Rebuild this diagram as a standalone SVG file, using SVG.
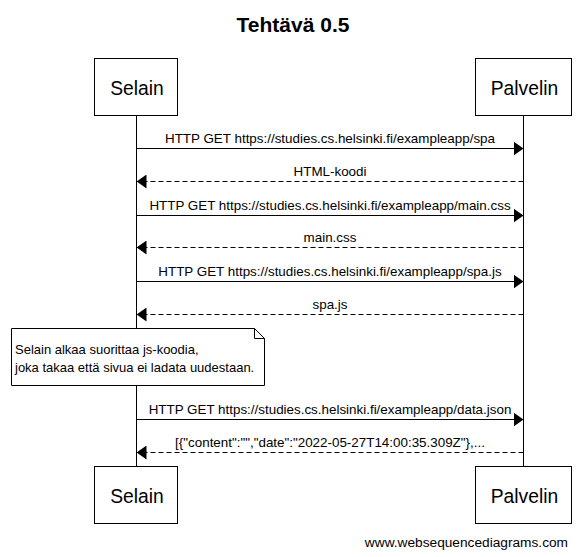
<svg xmlns="http://www.w3.org/2000/svg" width="586" height="557" viewBox="0 0 586 557">
<defs>
<style>
text{font-family:"Liberation Sans",Arial,sans-serif;fill:#000}
.t{font-size:21px;font-weight:bold;text-anchor:middle}
.p{font-size:19.3px;text-anchor:middle}
.m{font-size:13.4px;text-anchor:middle}
.n{font-size:13px}
.box{fill:#fff;stroke:#000;stroke-width:1}
.life{stroke:#000;stroke-width:1}
.req{stroke:#000;stroke-width:1;fill:none;marker-end:url(#ah)}
.res{stroke:#000;stroke-width:1;fill:none;stroke-dasharray:5,3;marker-end:url(#ah)}
</style>
<marker id="ah" viewBox="0 0 10 14" refX="10" refY="7" markerWidth="10" markerHeight="14" markerUnits="userSpaceOnUse" orient="auto">
<path d="M0,0 L10,7 L0,14 Z" fill="#000"/>
</marker>
</defs>
<rect width="586" height="557" fill="#fff"/>
<text class="t" x="293" y="32">Tehtävä 0.5</text>
<g id="lifelines">
<line class="life" x1="136.5" y1="115" x2="136.5" y2="466"/>
<line class="life" x1="523.5" y1="115" x2="523.5" y2="466"/>
</g>
<g id="selain-top"><rect class="box" x="94.5" y="58.5" width="83" height="57"/><text class="p" x="137" y="95">Selain</text></g>
<g id="palvelin-top"><rect class="box" x="475.5" y="58.5" width="96" height="57"/><text class="p" x="524.5" y="95">Palvelin</text></g>
<g id="connectors">
<line class="req" x1="136.5" y1="148.5" x2="523.5" y2="148.5"/>
<text class="m" x="330" y="143">HTTP GET https://studies.cs.helsinki.fi/exampleapp/spa</text>
<line class="res" x1="523.5" y1="181.5" x2="136.5" y2="181.5"/>
<text class="m" x="330" y="176">HTML-koodi</text>
<line class="req" x1="136.5" y1="215.5" x2="523.5" y2="215.5"/>
<text class="m" x="330" y="210">HTTP GET https://studies.cs.helsinki.fi/exampleapp/main.css</text>
<line class="res" x1="523.5" y1="247.5" x2="136.5" y2="247.5"/>
<text class="m" x="330" y="242">main.css</text>
<line class="req" x1="136.5" y1="281.5" x2="523.5" y2="281.5"/>
<text class="m" x="330" y="276">HTTP GET https://studies.cs.helsinki.fi/exampleapp/spa.js</text>
<line class="res" x1="523.5" y1="314.5" x2="136.5" y2="314.5"/>
<text class="m" x="330" y="309">spa.js</text>
<line class="req" x1="136.5" y1="419.5" x2="523.5" y2="419.5"/>
<text class="m" x="330" y="414">HTTP GET https://studies.cs.helsinki.fi/exampleapp/data.json</text>
<line class="res" x1="523.5" y1="452.5" x2="136.5" y2="452.5"/>
<text class="m" x="330" y="447">[{"content":"","date":"2022-05-27T14:00:35.309Z"},...</text>
</g>
<g id="note">
<path class="box" d="M11.5,328.5 H254.5 L264.5,338.5 V385.5 H11.5 Z"/>
<path d="M254.5,328.5 V338.5 H264.5" fill="none" stroke="#000"/>
<text class="n" x="15" y="354">Selain alkaa suorittaa js-koodia,</text>
<text class="n" x="15" y="372">joka takaa että sivua ei ladata uudestaan.</text>
</g>
<g id="selain-bottom"><rect class="box" x="94.5" y="466.5" width="83" height="57"/><text class="p" x="137" y="503">Selain</text></g>
<g id="palvelin-bottom"><rect class="box" x="475.5" y="466.5" width="96" height="57"/><text class="p" x="524.5" y="503">Palvelin</text></g>
<text x="568" y="547" font-size="13.7" text-anchor="end">www.websequencediagrams.com</text>
</svg>
